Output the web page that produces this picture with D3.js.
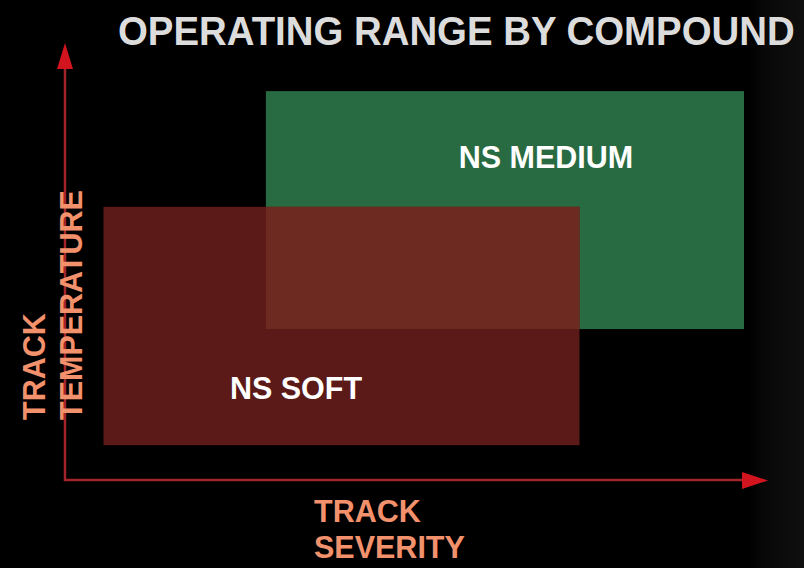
<!DOCTYPE html>
<html><head><meta charset="utf-8">
<script src="https://cdn.jsdelivr.net/npm/d3@7"></script>
<style>html,body{margin:0;padding:0;background:#000;}svg{display:block;}</style>
</head><body>
<script>
// Data (severity 0..10, temperature 0..10)
const compounds = ["NS MEDIUM", "NS SOFT"];
const severityMin = [2.87, 0.55];
const severityMax = [9.7, 7.35];
const tempMin = [3.47, 0.8];
const tempMax = [8.94, 6.28];
const colors = ["#286b42", "#5b1a17"];
const overlapColor = "#6c2a20";
const title = "OPERATING RANGE BY COMPOUND";
const xLabel = ["TRACK", "SEVERITY"];
const yLabel = ["TRACK", "TEMPERATURE"];

const W = 804, H = 568;
const svg = d3.select("body").append("svg").attr("width", W).attr("height", H);
const defs = svg.append("defs");
const g1 = defs.append("linearGradient").attr("id","rg").attr("x1","0").attr("x2","1").attr("y1","0").attr("y2","0");
g1.append("stop").attr("offset","0").attr("stop-color","#000");
g1.append("stop").attr("offset","0.3").attr("stop-color","#080808");
g1.append("stop").attr("offset","1").attr("stop-color","#0f0f0f");

svg.append("rect").attr("width", W).attr("height", H).attr("fill", "#000");
svg.append("rect").attr("x", 748).attr("y", 0).attr("width", 56).attr("height", H).attr("fill", "url(#rg)");

const x = d3.scaleLinear().domain([0, 10]).range([65, 765]);
const y = d3.scaleLinear().domain([0, 10]).range([480, 45]);

const data = compounds.map((c, i) => ({name: c, x0: severityMin[i], x1: severityMax[i], y0: tempMin[i], y1: tempMax[i], color: colors[i]}));

svg.selectAll("rect.range").data(data).enter().append("rect")
  .attr("class", "range")
  .attr("x", d => x(d.x0)).attr("y", d => y(d.y1))
  .attr("width", d => x(d.x1) - x(d.x0)).attr("height", d => y(d.y0) - y(d.y1))
  .attr("fill", d => d.color);

// overlap region
const ox0 = Math.max(data[0].x0, data[1].x0), ox1 = Math.min(data[0].x1, data[1].x1);
const oy0 = Math.max(data[0].y0, data[1].y0), oy1 = Math.min(data[0].y1, data[1].y1);
if (ox1 > ox0 && oy1 > oy0) {
  svg.append("rect").attr("x", x(ox0)).attr("y", y(oy1))
    .attr("width", x(ox1) - x(ox0)).attr("height", y(oy0) - y(oy1)).attr("fill", overlapColor);
}

// labels
const labelPos = [{cx: 546, by: 168}, {cx: 296, by: 399}];
svg.selectAll("text.cl").data(data).enter().append("text")
  .attr("class","cl")
  .attr("x", (d,i) => labelPos[i].cx).attr("y", (d,i) => labelPos[i].by)
  .attr("text-anchor","middle")
  .attr("font-family","'Liberation Sans', Arial, sans-serif").attr("font-weight","bold")
  .attr("font-size", 30.5).attr("fill","#fff").text(d => d.name);

// axes
const axisCol = "#a3242b", arrowCol = "#d2141e";
svg.append("line").attr("x1", x(0)).attr("x2", 745).attr("y1", y(0)).attr("y2", y(0))
  .attr("stroke", axisCol).attr("stroke-width", 2.5);
svg.append("line").attr("x1", x(0)).attr("x2", x(0)).attr("y1", y(0)+1.25).attr("y2", 66)
  .attr("stroke", axisCol).attr("stroke-width", 2.5);
svg.append("path").attr("d", `M742,472 L768,480.5 L742,489 Z`).attr("fill", arrowCol);
svg.append("path").attr("d", `M57,69 L65,43 L73,69 Z`).attr("fill", arrowCol);

// title (horizontally condensed to fit its width)
const tg = svg.append("g");
const tt = tg.append("text").attr("x", 0).attr("y", 0)
  .attr("font-family","'Liberation Sans',Arial,sans-serif")
  .attr("font-weight","bold").attr("font-size", 40).attr("fill","#dcdcdc")
  .text(title);
const natural = tt.node().getComputedTextLength();
const sx = 677 / natural;
tg.attr("transform", `translate(118,45) scale(${sx},1)`);

const labCol = "#f2916c";
const lab = svg.append("text").attr("font-family","'Liberation Sans', Arial, sans-serif")
  .attr("font-weight","bold").attr("font-size", 30.5).attr("fill", labCol);
lab.append("tspan").attr("x", 314).attr("y", 522).text(xLabel[0]);
lab.append("tspan").attr("x", 314).attr("y", 558).text(xLabel[1]);

[45, 82].forEach((bx, i) => {
  svg.append("text").attr("transform", `translate(${bx},420) rotate(-90)`)
    .attr("font-family","'Liberation Sans', Arial, sans-serif")
    .attr("font-weight","bold").attr("font-size", 30.5).attr("fill", labCol)
    .text(yLabel[i]);
});
</script>
</body></html>
